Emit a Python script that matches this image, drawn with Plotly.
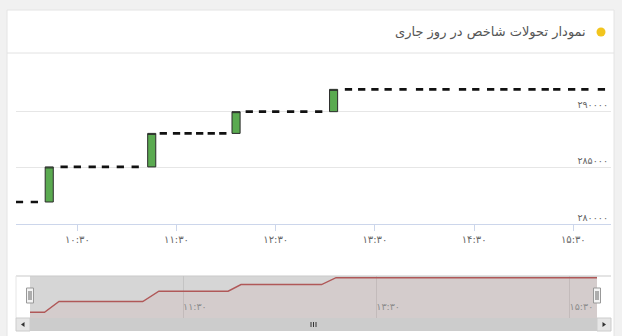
import plotly.graph_objects as go

W, H = 622, 336
DAY = "2024-01-01 "

# ---- data ----
times = ["09:55", "10:04", "10:13", "10:22", "10:30", "10:39", "10:47", "10:56", "11:05",
         "11:15", "11:22", "11:30", "11:37", "11:44", "11:51", "11:58",
         "12:06", "12:14", "12:22", "12:30", "12:39", "12:47", "12:56",
         "13:05", "13:14", "13:22", "13:30", "13:38", "13:47", "13:57", "14:05", "14:13",
         "14:23", "14:31", "14:40", "14:48", "14:56", "15:05", "15:13", "15:20", "15:29",
         "15:37", "15:47"]
opens = [281970, 281970, 281970, 285070, 285070, 285070, 285070, 285070, 285070,
         285070, 288030, 288030, 288030, 288030, 288030, 288030,
         288030, 289950, 289950, 289950, 289950, 289950, 289950,
         289950, 291920, 291920, 291920, 291920, 291920, 291920, 291920, 291920,
         291920, 291920, 291920, 291920, 291920, 291920, 291920, 291920, 291920,
         291920, 291920]
closes = [281970, 281970, 285070, 285070, 285070, 285070, 285070, 285070, 285070,
          288030, 288030, 288030, 288030, 288030, 288030, 288030,
          289950, 289950, 289950, 289950, 289950, 289950, 289950,
          291920, 291920, 291920, 291920, 291920, 291920, 291920, 291920, 291920,
          291920, 291920, 291920, 291920, 291920, 291920, 291920, 291920, 291920,
          291920, 291920]
highs = [281970, 281970, 285070, 285070, 285070, 285070, 285110, 285070, 285070,
         288030, 288070, 288030, 288030, 288030, 288030, 288030,
         289950, 289950, 289950, 289990, 289990, 289950, 289950,
         291920, 291920, 291960, 291960, 291960, 291960, 291920, 291920, 291960,
         291920, 291920, 291960, 291920, 291920, 291920, 291920, 291920, 291960,
         291960, 291960]
lows = [281970, 281970, 281970, 285070, 285070, 285070, 285070, 285070, 285070,
        285070, 288030, 288030, 288030, 288030, 288030, 288030,
        288030, 289950, 289950, 289950, 289950, 289950, 289950,
        289950, 291920, 291920, 291920, 291920, 291920, 291920, 291920, 291920,
        291920, 291920, 291920, 291920, 291920, 291920, 291920, 291920, 291920,
        291920, 291920]
y_ticks = [280000, 285000, 290000]
x_ticks = ["10:30", "11:30", "12:30", "13:30", "14:30", "15:30"]
nav_ticks = ["11:30", "13:30", "15:30"]
title = "نمودار تحولات شاخص در روز جاری"

assert len(times) == len(opens) == len(closes) == len(highs) == len(lows)

FA = str.maketrans("0123456789", "۰۱۲۳۴۵۶۷۸۹")
FONT = "DejaVu Sans"
ts = [DAY + t for t in times]

body = [i for i in range(len(ts)) if opens[i] != closes[i]]
flat = [i for i in range(len(ts)) if opens[i] == closes[i]]


def pick(arr, idx):
    return [arr[i] for i in idx]


NONE = "rgba(0,0,0,0)"
fig = go.Figure()
# flat candles: kept in the candlestick layer (shared candle width), drawn as dashes below
fig.add_trace(go.Candlestick(
    x=pick(ts, flat), open=pick(opens, flat), high=pick(highs, flat),
    low=pick(lows, flat), close=pick(closes, flat),
    increasing=dict(line=dict(color=NONE, width=0), fillcolor=NONE),
    decreasing=dict(line=dict(color=NONE, width=0), fillcolor=NONE),
    whiskerwidth=0, hoverinfo="skip", xaxis="x", yaxis="y"))
# candles with a body
fig.add_trace(go.Candlestick(
    x=pick(ts, body), open=pick(opens, body), high=pick(highs, body),
    low=pick(lows, body), close=pick(closes, body),
    increasing=dict(line=dict(color="#2b2b2b", width=1), fillcolor="#5aaa50"),
    decreasing=dict(line=dict(color="#2b2b2b", width=1), fillcolor="#5aaa50"),
    whiskerwidth=0, hoverinfo="skip", xaxis="x", yaxis="y"))
# doji candles: open == close drawn as short black dashes with tiny wicks
fig.add_trace(go.Scatter(
    x=pick(ts, flat), y=pick(closes, flat), mode="markers",
    marker=dict(symbol="line-ew", size=5.2, line=dict(color="#111111", width=2.6)),
    error_y=dict(type="data", symmetric=False,
                 array=[highs[i] - closes[i] for i in flat],
                 arrayminus=[closes[i] - lows[i] for i in flat],
                 width=0, thickness=1.2, color="#111111"),
    hoverinfo="skip", xaxis="x", yaxis="y"))
# navigator series
fig.add_trace(go.Scatter(
    x=ts, y=closes, mode="lines", line=dict(color="#b05858", width=1.4),
    fill="tozeroy", fillcolor="rgba(190,90,90,0.08)", hoverinfo="skip",
    xaxis="x2", yaxis="y2"))


def X(px):
    return px / W


def Y(py):
    return 1 - py / H


def rect(x0, y0, x1, y1, fill, line=NONE, lw=0, layer="below"):
    return dict(type="rect", xref="paper", yref="paper", x0=X(x0), x1=X(x1),
                y0=Y(y1), y1=Y(y0), fillcolor=fill, line=dict(color=line, width=lw),
                layer=layer)


def seg(x0, y0, x1, y1, color, lw=1, layer="below"):
    return dict(type="line", xref="paper", yref="paper", x0=X(x0), x1=X(x1),
                y0=Y(y0), y1=Y(y1), line=dict(color=color, width=lw), layer=layer)


def tri(pts, fill):
    path = "M " + " L ".join(f"{X(a)},{Y(b)}" for a, b in pts) + " Z"
    return dict(type="path", xref="paper", yref="paper", path=path,
                fillcolor=fill, line=dict(width=0), layer="above")


shapes = [
    rect(7, 10, 614, 340, "#ffffff", "#e4e4e4", 1),
    seg(7, 53, 614, 53, "#e2e2e2", 1),
    # navigator mask
    rect(30, 276, 597, 318, "#d6d6d6"),
    seg(16, 276, 611, 276, "#c9c9c9", 1),
    seg(16, 276, 16, 318, "#e6e6e6", 1),
    # scrollbar
    rect(16, 318, 611, 331, "#f2f2f2"),
    rect(16, 318, 30, 331, "#e6e6e6", "#cccccc", 1),
    rect(30, 318, 597, 331, "#cccccc"),
    rect(597, 318, 611, 331, "#e6e6e6", "#cccccc", 1),
    tri([(24.5, 322), (24.5, 327), (21, 324.5)], "#333333"),
    tri([(602.5, 322), (602.5, 327), (606, 324.5)], "#333333"),
    seg(311, 322, 311, 327, "#333333", 1, "above"),
    seg(313.5, 322, 313.5, 327, "#333333", 1, "above"),
    seg(316, 322, 316, 327, "#333333", 1, "above"),
    # handles
    rect(26.5, 288, 33.5, 303, "#f4f4f4", "#999999", 1, "above"),
    seg(29, 291, 29, 300, "#666666", 1, "above"),
    seg(31, 291, 31, 300, "#666666", 1, "above"),
    rect(593.5, 288, 600.5, 303, "#f4f4f4", "#999999", 1, "above"),
    seg(596, 291, 596, 300, "#666666", 1, "above"),
    seg(598, 291, 598, 300, "#666666", 1, "above"),
    # title dot
    dict(type="circle", xref="paper", yref="paper", x0=X(596.5), x1=X(605.5),
         y0=Y(36.5), y1=Y(27.5), fillcolor="#f2c51e", line=dict(width=0), layer="above"),
]

y_bottom_px, y_top_px = 224.3, 56.0
px_per_5000 = 56.6
y_max = y_ticks[0] + (y_bottom_px - y_top_px) / px_per_5000 * 5000

fig.update_layout(
    width=W, height=H, margin=dict(l=0, r=0, t=0, b=0),
    paper_bgcolor="#f1f1f1", plot_bgcolor=NONE,
    showlegend=False, boxgap=0.3, boxgroupgap=0, boxmode="overlay",
    font=dict(family=FONT, color="#666666", size=10),
    shapes=shapes,
    xaxis=dict(domain=[X(16), X(611)], anchor="y", type="date",
               range=[DAY + "09:52:54", DAY + "15:52:48"],
               tickvals=[DAY + t for t in x_ticks],
               ticktext=[t.translate(FA) for t in x_ticks],
               showgrid=False, showline=True, linecolor="#ccd6eb", linewidth=1,
               ticks="outside", ticklen=6, tickcolor="#ccd6eb",
               tickfont=dict(size=10, color="#666666", family=FONT),
               rangeslider=dict(visible=False), zeroline=False, fixedrange=True),
    yaxis=dict(domain=[Y(y_bottom_px), Y(y_top_px)], anchor="x",
               range=[y_ticks[0], y_max], side="right",
               tickvals=y_ticks, ticktext=[str(v).translate(FA) for v in y_ticks],
               ticklabelposition="inside top", showgrid=True, gridcolor="#e6e6e6",
               gridwidth=1, zeroline=False, showline=False, ticks="",
               tickfont=dict(size=9.5, color="#666666", family=FONT), fixedrange=True),
    xaxis2=dict(domain=[X(30), X(597)], anchor="y2", type="date",
                range=[ts[0], ts[-1]],
                tickvals=[DAY + t for t in nav_ticks],
                ticktext=[t.translate(FA) for t in nav_ticks],
                ticklabelposition="inside right", ticks="",
                showgrid=True, gridcolor="#c4c4c4", gridwidth=1,
                showline=False, zeroline=False,
                tickfont=dict(size=9.5, color="#8c8c8c", family=FONT), fixedrange=True),
    yaxis2=dict(domain=[Y(318), Y(276)], anchor="x2", range=[280330, 292410],
                visible=False, fixedrange=True),
    annotations=[dict(xref="paper", yref="paper", x=X(588), y=Y(32),
                      xanchor="right", yanchor="middle", showarrow=False,
                      text=title, font=dict(family=FONT, size=13, color="#555555"))],
)

fig.write_html("out.html")
